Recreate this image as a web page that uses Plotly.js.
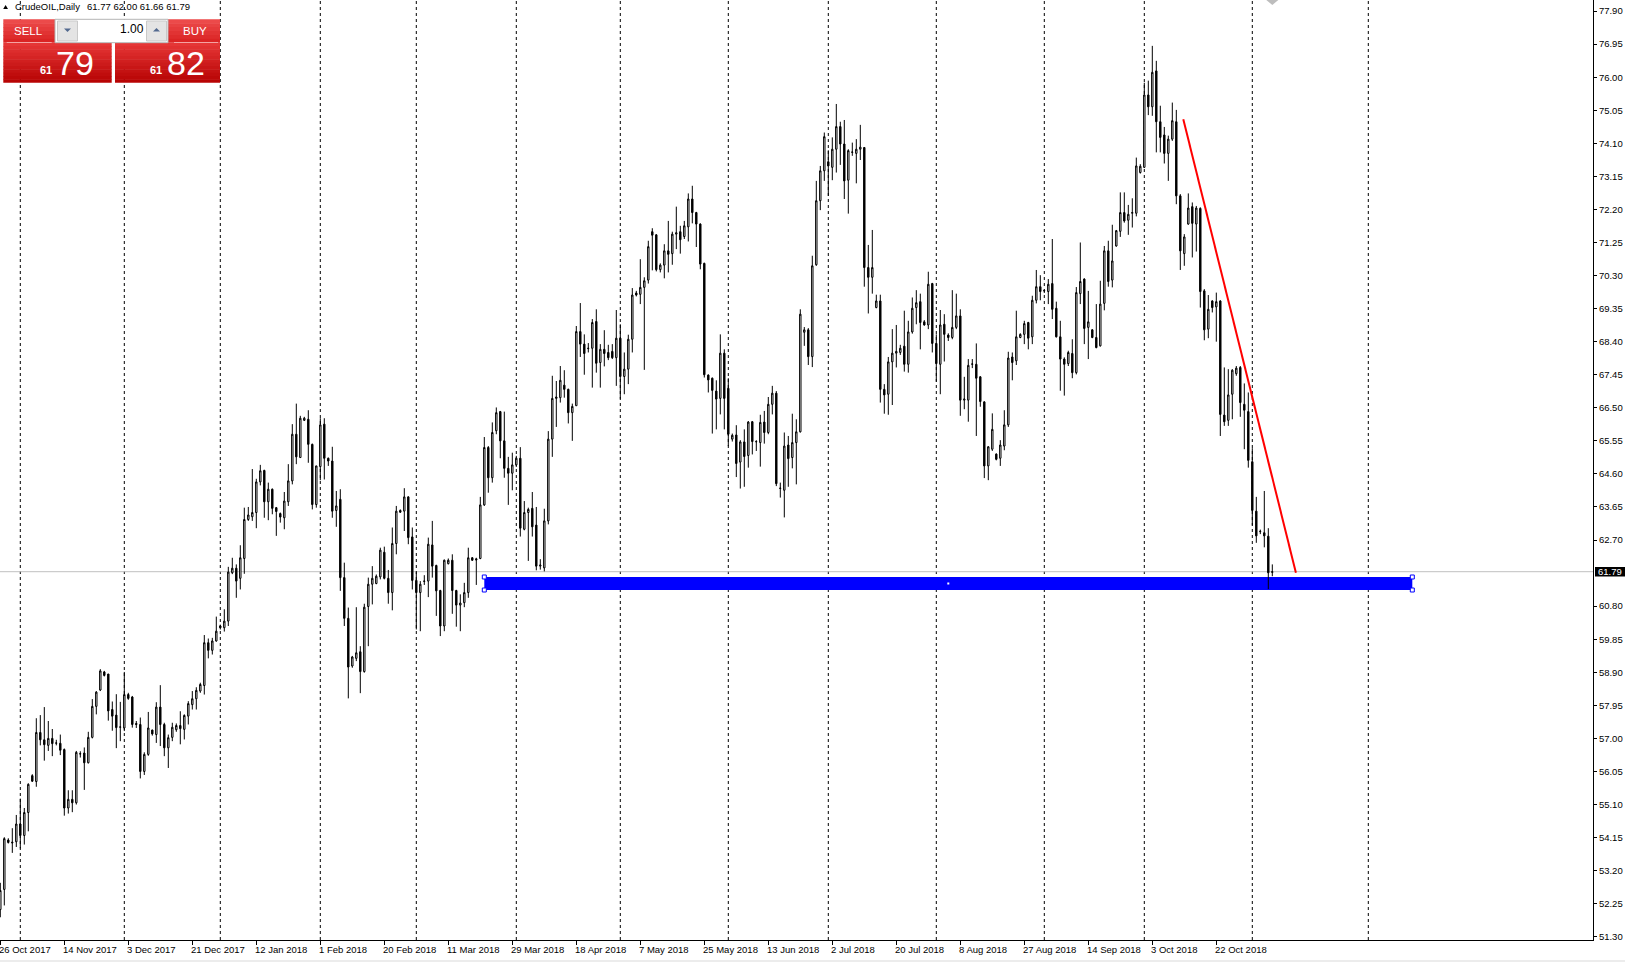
<!DOCTYPE html>
<html><head><meta charset="utf-8">
<script src="https://cdn.plot.ly/plotly-3.0.1.min.js"></script>
<style>html,body{margin:0;padding:0;background:#fff;overflow:hidden}#chart{width:1625px;height:963px}</style>
</head><body><div id="chart"></div>
<script>
// ---------- DATA (CrudeOIL, Daily) ----------
const opens = [52.08,52.66,54.08,54.02,54.03,54.54,54.21,54.87,55.93,55.76,
57.17,56.96,56.80,57.00,56.86,56.86,56.68,55.00,55.25,55.15,
56.55,56.58,56.30,57.03,57.92,58.39,58.91,58.85,57.83,57.67,
57.32,57.30,58.26,58.19,57.43,57.40,56.05,56.54,57.24,57.11,
57.90,57.40,56.73,57.03,57.25,57.37,57.26,57.64,57.97,58.14,
58.36,58.52,59.75,59.53,59.80,60.23,60.18,60.37,61.76,61.89,
61.60,62.17,63.29,63.37,63.49,64.37,64.70,63.80,64.16,63.63,
63.46,63.34,63.80,64.40,65.74,65.07,66.14,66.17,65.45,63.72,
64.81,66.03,65.05,64.97,63.55,63.87,61.62,60.45,59.08,59.30,
59.49,58.92,60.79,61.43,61.45,61.64,62.35,61.60,61.19,62.60,
63.55,63.53,63.94,62.79,61.54,61.19,61.51,61.52,62.56,61.97,
61.25,60.23,62.02,62.12,61.25,60.83,60.90,61.19,62.19,62.16,
62.17,63.71,65.36,64.49,65.84,66.39,65.55,64.76,64.62,64.86,
65.05,63.01,63.49,63.61,63.13,61.95,61.90,63.25,65.60,66.77,
66.79,67.15,67.03,66.36,66.56,68.69,68.33,68.20,68.21,68.98,
67.80,68.18,68.09,68.12,67.94,68.50,67.40,67.61,68.47,69.80,
69.76,69.96,70.17,71.56,71.47,70.47,70.60,71.01,70.93,71.49,
71.56,71.42,71.70,72.50,72.11,71.78,70.65,67.44,67.35,66.98,
66.77,68.07,67.06,65.60,65.72,64.94,65.52,65.13,66.10,65.52,
65.50,66.09,65.79,66.60,66.92,64.18,64.13,65.43,65.07,65.50,
65.81,68.67,68.74,67.97,70.61,72.45,73.31,73.57,73.41,73.93,
74.58,74.08,73.04,73.84,73.81,73.93,73.98,70.53,70.25,69.38,
69.57,67.03,66.89,67.82,68.07,68.09,68.27,67.75,68.68,69.38,
69.55,68.97,68.88,70.07,68.35,67.75,68.90,68.59,68.52,68.81,
69.14,66.72,66.72,67.75,67.75,67.39,66.67,64.83,65.31,65.17,
65.05,65.40,66.01,67.96,67.85,68.52,68.61,68.95,68.54,69.59,
69.98,69.86,69.84,70.07,69.36,68.54,67.90,67.77,68.06,67.51,
69.78,70.20,68.81,68.74,68.52,68.28,69.50,71.01,70.17,71.15,
71.57,72.11,71.89,72.09,72.09,73.26,73.41,75.49,75.15,76.18,
74.72,74.34,73.81,74.22,74.72,72.59,70.93,71.78,72.28,71.78,
72.23,69.86,68.76,69.57,69.40,69.57,66.29,66.14,66.89,67.48,
67.66,66.60,66.39,64.95,63.53,62.94,62.91,62.81,61.77];

const highs = [52.85,54.16,54.13,54.42,54.80,55.27,55.00,55.71,55.97,57.58,
57.67,57.90,57.50,57.27,56.96,57.11,56.71,55.51,55.51,56.64,
56.63,56.74,57.19,58.13,58.36,58.99,58.94,58.85,58.06,58.27,
58.05,58.91,58.31,58.22,57.50,57.60,56.60,57.76,57.25,58.04,
58.53,57.45,57.11,57.45,57.43,57.78,57.69,58.07,58.36,58.47,
58.60,59.97,59.87,59.89,60.50,60.27,60.71,61.93,62.19,62.00,
62.55,63.63,63.65,64.74,64.46,64.86,64.72,64.35,64.18,63.65,
63.49,64.08,64.88,66.03,66.62,66.27,66.24,66.43,65.47,64.83,
66.20,66.20,65.07,65.38,64.11,64.16,62.05,60.76,59.37,60.77,
59.65,60.87,61.62,61.95,61.71,62.48,62.51,61.84,63.06,63.68,
63.58,64.19,63.96,63.06,61.81,61.52,61.69,62.77,63.25,61.99,
61.27,62.14,62.17,62.29,61.27,61.14,61.47,62.48,62.21,62.19,
63.94,65.66,65.40,66.08,66.51,66.41,66.39,65.09,65.21,65.12,
65.37,63.82,63.63,64.08,63.65,62.15,63.60,65.83,67.42,67.27,
67.70,67.58,67.05,66.62,68.85,69.51,68.61,68.36,69.05,69.33,
68.33,68.73,68.31,68.33,69.31,68.90,68.09,68.60,69.94,69.86,
70.77,70.25,71.30,71.66,71.49,70.65,71.20,71.87,71.56,72.28,
71.73,71.87,72.66,72.88,72.13,71.80,70.67,67.46,67.37,67.29,
68.61,68.18,67.35,65.76,66.00,65.57,65.88,66.12,66.12,65.57,
66.30,66.41,66.81,67.13,66.98,64.35,65.79,65.69,66.33,66.17,
69.33,68.82,68.79,70.87,73.02,73.45,74.41,73.90,74.27,75.23,
74.72,74.77,73.93,74.12,74.22,74.63,73.98,71.18,71.61,69.75,
69.75,67.18,67.96,68.76,68.88,68.31,69.29,69.00,69.67,69.88,
69.78,69.02,70.41,70.09,68.61,69.31,69.19,68.64,69.88,69.78,
69.33,67.39,67.90,67.90,68.35,67.41,66.69,65.40,66.34,65.19,
65.57,66.43,68.11,68.09,69.29,68.64,69.00,68.97,69.72,70.46,
70.31,69.90,70.20,71.35,69.55,69.00,67.95,68.14,68.47,69.97,
71.25,70.22,69.86,68.76,69.48,70.15,71.15,71.30,71.76,71.61,
72.69,72.69,72.33,72.52,73.69,73.50,75.84,75.90,76.90,76.47,
75.18,74.57,74.32,75.27,75.06,72.64,71.49,72.66,72.40,72.30,
72.26,69.91,69.74,69.59,69.81,69.59,67.66,67.61,67.61,67.70,
67.70,67.20,66.94,65.34,63.94,63.00,64.11,63.04,62.00];

const lows = [51.86,52.20,53.98,53.71,53.88,53.84,53.95,54.33,55.75,55.61,
56.80,56.36,56.64,56.49,56.80,56.52,54.78,54.84,54.88,55.10,
56.45,55.52,56.28,57.00,57.69,58.36,58.78,57.51,57.22,56.72,
56.92,57.21,58.11,57.31,57.30,55.85,55.95,56.50,57.08,56.87,
56.78,56.49,56.15,56.92,57.19,56.83,56.97,57.40,57.83,57.83,
58.31,58.26,59.30,59.41,59.78,60.13,60.07,60.23,61.72,61.04,
61.28,61.73,63.25,63.25,63.04,64.27,63.34,63.27,63.44,62.82,
63.20,63.01,63.68,64.30,64.88,65.07,66.12,64.92,63.58,63.63,
64.42,64.44,64.83,63.34,63.08,61.24,60.23,58.15,59.03,59.22,
58.30,58.89,59.65,60.85,61.43,61.57,61.57,60.87,60.68,62.29,
63.48,62.96,62.58,61.28,60.13,60.08,61.41,61.06,61.62,60.52,
59.94,60.08,62.00,60.58,60.21,60.08,60.77,61.04,62.10,61.41,
62.15,63.68,64.06,64.35,65.74,65.05,64.49,63.71,64.13,64.80,
62.80,62.98,62.10,62.80,61.83,61.85,61.80,63.15,65.09,65.95,
66.65,66.79,66.05,65.55,66.56,67.96,67.45,68.09,67.08,67.51,
67.08,67.69,67.87,67.90,67.13,66.76,66.89,67.18,68.09,69.70,
69.48,67.59,70.07,70.45,70.42,70.39,70.22,70.39,70.61,71.06,
70.93,71.35,71.28,71.80,71.12,70.48,67.37,66.94,65.76,65.88,
66.31,65.88,65.40,65.53,64.51,64.18,64.23,64.78,65.16,65.26,
64.81,65.47,65.74,66.31,64.25,63.92,63.35,64.23,64.76,64.30,
65.79,68.28,67.73,67.67,70.58,72.18,73.02,72.59,73.04,73.26,
73.48,72.50,72.08,73.74,72.95,73.62,69.98,69.21,69.78,69.36,
66.65,66.33,66.30,66.58,67.66,68.02,67.54,67.51,68.63,68.90,
68.18,68.86,68.76,68.09,67.25,66.89,67.83,68.42,68.47,68.76,
66.27,66.46,66.10,67.64,65.69,66.53,64.48,64.42,65.26,64.99,
64.83,65.28,65.95,67.29,67.73,68.50,68.33,68.18,68.33,69.50,
69.59,69.80,69.48,69.05,68.52,66.99,66.85,67.70,67.35,67.46,
69.48,68.33,67.90,68.50,68.21,68.26,69.30,69.98,69.96,71.13,
71.41,71.82,71.47,71.68,72.00,73.23,73.39,74.91,74.89,73.84,
73.84,73.52,73.02,74.17,72.35,70.46,70.58,71.76,70.82,70.99,
69.38,68.44,68.50,69.24,68.40,65.69,65.98,65.98,66.17,67.42,
66.24,65.31,64.78,63.12,62.62,62.87,62.49,61.29,61.66];

const closes = [52.63,54.12,54.01,54.00,54.54,54.21,54.87,55.68,55.77,57.17,
56.96,56.82,57.00,56.85,56.87,56.66,55.00,55.25,55.15,56.60,
56.56,56.30,57.03,57.92,58.33,58.94,58.81,57.79,57.64,57.31,
57.33,58.26,58.15,57.40,57.40,56.05,56.54,57.30,57.13,57.90,
57.40,56.73,57.02,57.32,57.37,57.28,57.66,58.00,58.14,58.38,
58.55,59.75,59.53,59.80,60.08,60.18,60.37,61.78,61.89,61.52,
62.19,63.29,63.42,63.49,64.37,64.69,63.80,64.16,63.61,63.52,
63.36,63.82,64.40,65.74,65.09,66.20,66.20,65.45,63.72,64.83,
66.01,65.05,64.97,63.53,63.68,61.62,60.45,59.05,59.34,59.46,
58.92,60.77,61.43,61.60,61.66,62.41,61.60,61.19,62.60,63.53,
63.50,63.94,62.77,61.54,61.19,61.43,61.52,62.58,61.95,61.24,
60.23,62.12,62.12,61.25,60.83,60.89,61.19,62.19,62.12,62.13,
63.71,65.36,64.49,65.79,66.36,65.55,64.76,64.62,64.86,65.05,
63.04,63.49,63.58,63.08,61.95,61.98,63.25,65.60,66.77,66.81,
67.29,67.03,66.36,66.54,68.69,68.33,68.06,68.21,68.95,67.78,
68.18,68.06,67.94,67.94,68.50,67.40,67.61,68.47,69.74,69.74,
69.96,70.15,71.13,71.46,70.47,70.60,71.01,70.91,71.49,71.53,
71.33,71.73,72.50,72.11,71.78,70.63,67.45,67.30,67.00,66.75,
68.07,66.77,65.74,65.71,64.90,65.52,65.10,66.09,65.53,65.53,
66.08,65.79,66.60,66.92,64.32,64.19,65.40,65.04,65.50,65.81,
69.19,68.74,67.97,70.58,72.45,73.31,74.29,73.45,73.93,74.58,
74.08,73.02,73.89,73.85,73.93,73.99,70.53,70.25,70.53,69.57,
67.03,66.87,67.82,68.07,68.12,68.21,67.75,68.68,69.36,69.52,
68.95,68.88,70.05,68.35,67.77,68.88,68.61,68.52,68.81,69.14,
66.72,66.75,67.72,67.76,67.35,66.68,64.83,65.38,65.88,65.02,
65.43,66.01,67.93,67.80,68.54,68.61,68.92,68.50,69.59,69.98,
69.84,69.87,70.05,69.33,68.54,67.90,67.75,68.09,67.51,69.81,
70.13,68.78,68.97,68.52,68.23,69.48,71.01,70.13,70.72,71.59,
72.11,71.87,72.06,72.11,73.45,73.44,75.49,75.15,76.14,74.72,
74.27,73.81,74.22,74.75,72.59,71.01,71.41,72.24,71.80,72.24,
69.84,68.74,69.33,69.38,69.55,66.31,66.10,66.87,67.58,67.64,
66.65,66.43,64.99,63.55,62.82,62.95,62.82,61.76,61.79];

const dateLabelBars = [0,16,32,48,64,80,96,112,128,144,160,176,192,208,224,240,256,272,288,304];
const dateLabels = ["26 Oct 2017","14 Nov 2017","3 Dec 2017","21 Dec 2017","12 Jan 2018","1 Feb 2018",
"20 Feb 2018","11 Mar 2018","29 Mar 2018","18 Apr 2018","7 May 2018","25 May 2018","13 Jun 2018",
"2 Jul 2018","20 Jul 2018","8 Aug 2018","27 Aug 2018","14 Sep 2018","3 Oct 2018","22 Oct 2018"];
const separatorBars = [5,31,55,80,104,129,155,182,207,234,261,286,313,342];
const priceTickLabels = ["51.30","52.25","53.20","54.15","55.10","56.05","57.00","57.95","58.90","59.85",
"60.80","62.70","63.65","64.60","65.55","66.50","67.45","68.40","69.35","70.30","71.25","72.20",
"73.15","74.10","75.05","76.00","76.95","77.90"];
const priceTickVals = priceTickLabels.map(Number);
const symbolName = "CrudeOIL,Daily";
const headerOHLC = ["61.77","62.00","61.66","61.79"];
const bidPrice = 61.79;
const bidBig = "79", askBig = "82", priceHandle = "61";
const lotSize = "1.00";
const zoneBars = [121, 353];
const zonePrices = [61.264, 61.638];
const trendBars = [295.75, 323.9];
const trendPrices = [74.79, 61.76];

// ---------- LAYOUT HELPERS ----------
const W = 1625, H = 963, PW = 1593, PH = 940;
const XR = [-0.075, -0.075 + PW / 4];
const YR = [51.207, 78.218];
const FONT = "Liberation Sans, Arial, sans-serif";
const X = p => p / PW, Y = p => 1 - p / PH;
const barPx = k => (k - XR[0]) / (XR[1] - XR[0]) * PW;

function rectPx(x0, y0, x1, y1, fill, line) {
  return {type:'rect', xref:'paper', yref:'paper', x0:X(x0), x1:X(x1), y0:Y(y1), y1:Y(y0),
    fillcolor:fill, line: line ? {color:line, width:1} : {width:0}, layer:'above'};
}
function hex(c){return [parseInt(c.substr(1,2),16),parseInt(c.substr(3,2),16),parseInt(c.substr(5,2),16)];}
function mix(c0,c1,t){const a=hex(c0),b=hex(c1);return 'rgb('+a.map((v,i)=>Math.round(v+(b[i]-v)*t)).join(',')+')';}
function gradient(x0,y0,x1,y1,c0,c1,n){
  const out=[],h=(y1-y0)/n;
  for(let i=0;i<n;i++) out.push(rectPx(x0,y0+i*h,x1,Math.min(y1,y0+(i+1)*h+0.5),mix(c0,c1,i/(n-1)),null));
  return out;
}
function txt(x,y,text,size,color,anchor,bold){
  return {xref:'paper',yref:'paper',x:X(x),y:Y(y),text:bold?'<b>'+text+'</b>':text,showarrow:false,
    xanchor:anchor,yanchor:'middle',font:{family:FONT,size:size,color:color},borderpad:0,borderwidth:0};
}

const shapes = [];
// period separators
separatorBars.forEach(b => shapes.push({type:'line', xref:'x', yref:'paper', x0:b, x1:b, y0:0, y1:1,
  line:{color:'#000', width:1, dash:'3px,3px'}, layer:'below'}));
// bid line
shapes.push({type:'line', xref:'paper', yref:'y', x0:0, x1:1, y0:bidPrice, y1:bidPrice,
  line:{color:'#C0C0C0', width:1}, layer:'below'});
// support zone (background object)
shapes.push({type:'rect', xref:'x', yref:'y', x0:zoneBars[0], x1:zoneBars[1], y0:zonePrices[0], y1:zonePrices[1],
  fillcolor:'#0000FF', line:{width:0}, layer:'below'});
// zone handles
[[zoneBars[0],zonePrices[1]],[zoneBars[0],zonePrices[0]],[zoneBars[1],zonePrices[1]],[zoneBars[1],zonePrices[0]]].forEach(p=>{
  shapes.push({type:'rect', xref:'x', yref:'y', xsizemode:'pixel', ysizemode:'pixel', xanchor:p[0], yanchor:p[1],
    x0:-2, x1:2, y0:-2, y1:2, fillcolor:'#FFFFFF', line:{color:'#0000FF', width:1}, layer:'above'});
});
shapes.push({type:'rect', xref:'x', yref:'y', xsizemode:'pixel', ysizemode:'pixel',
  xanchor:(zoneBars[0]+zoneBars[1])/2, yanchor:(zonePrices[0]+zonePrices[1])/2,
  x0:-1, x1:1, y0:-1, y1:1, fillcolor:'#FFFFFF', line:{width:0}, layer:'above'});
// trend line
shapes.push({type:'line', xref:'x', yref:'y', x0:trendBars[0], x1:trendBars[1], y0:trendPrices[0], y1:trendPrices[1],
  line:{color:'#FF0000', width:2}, layer:'above'});
// chart shift marker
const lastPx = barPx(opens.length - 1);
shapes.push({type:'path', xref:'paper', yref:'paper',
  path:`M${X(lastPx-6)},${Y(0)} L${X(lastPx+6)},${Y(0)} L${X(lastPx)},${Y(5)} Z`,
  fillcolor:'#BDBDBD', line:{width:0}, layer:'above'});
// current price box on the axis
shapes.push({type:'rect', xref:'paper', yref:'paper', x0:X(1595), x1:X(1626), y0:Y(576.5), y1:Y(567),
  fillcolor:'#000000', line:{width:0}, layer:'above'});
// bottom window border
shapes.push({type:'line', xref:'paper', yref:'paper', x0:0, x1:X(W), y0:Y(961), y1:Y(961),
  line:{color:'#D9D9D9', width:1}, layer:'above'});
// header triangle
shapes.push({type:'path', xref:'paper', yref:'paper',
  path:`M${X(3.2)},${Y(9)} L${X(8)},${Y(9)} L${X(5.6)},${Y(5)} Z`, fillcolor:'#000', line:{width:0}, layer:'above'});

// one-click trading panel
gradient(3.3,19.3,55,42.7,'#EC4A4A','#DA2424',6).forEach(s=>shapes.push(s));
gradient(168,19.3,220,42.7,'#EC4A4A','#DA2424',6).forEach(s=>shapes.push(s));
gradient(3.3,42.7,111.7,82.7,'#E53636','#B80404',12).forEach(s=>shapes.push(s));
gradient(115,42.7,220,82.7,'#E53636','#B80404',12).forEach(s=>shapes.push(s));
shapes.push({type:'line', xref:'paper', yref:'paper', x0:X(6.7), x1:X(51.7), y0:Y(42.5), y1:Y(42.5), line:{color:'#F4A3A3', width:1}, layer:'above'});
shapes.push({type:'line', xref:'paper', yref:'paper', x0:X(174), x1:X(218), y0:Y(42.5), y1:Y(42.5), line:{color:'#F4A3A3', width:1}, layer:'above'});
shapes.push(rectPx(55,19.3,168,42.7,'#FFFFFF','#B4B4B4'));
shapes.push(rectPx(57.5,21,77.5,41,'#E4E4E4','#C9C9C9'));
shapes.push(rectPx(146.5,21,166.5,41,'#E4E4E4','#C9C9C9'));
shapes.push({type:'path', xref:'paper', yref:'paper', path:`M${X(64)},${Y(28.5)} L${X(71)},${Y(28.5)} L${X(67.5)},${Y(32)} Z`, fillcolor:'#52698F', line:{width:0}, layer:'above'});
shapes.push({type:'path', xref:'paper', yref:'paper', path:`M${X(153)},${Y(31.5)} L${X(160)},${Y(31.5)} L${X(156.5)},${Y(28)} Z`, fillcolor:'#52698F', line:{width:0}, layer:'above'});

const annotations = [];
dateLabelBars.forEach((b,i)=>annotations.push({xref:'x', yref:'paper', x:b, y:Y(949.3), text:dateLabels[i],
  showarrow:false, xanchor:'left', yanchor:'middle', xshift:-1.5, font:{family:FONT, size:9.5, color:'#000'},
  borderpad:0, borderwidth:0}));
annotations.push(txt(1598.5,571.8,bidPrice.toFixed(2),9.5,'#FFFFFF','left',false));
annotations.push(txt(14.5,6.8,symbolName,9.5,'#000','left',false));
annotations.push(txt(86.5,6.8,headerOHLC.join(' '),9.5,'#000','left',false));
annotations.push(txt(28.5,30.7,'SELL',11.5,'#FFFFFF','center',false));
annotations.push(txt(195,30.7,'BUY',11.5,'#FFFFFF','center',false));
annotations.push(txt(143.5,29.3,lotSize,12,'#000','right',false));
annotations.push(txt(40,70.3,priceHandle,11,'#FFFFFF','left',true));
annotations.push(txt(55.5,63.3,bidBig,34,'#FFFFFF','left',false));
annotations.push(txt(149.5,70.3,priceHandle,11,'#FFFFFF','left',true));
annotations.push(txt(167,63.3,askBig,34,'#FFFFFF','left',false));

const trace = {
  type:'candlestick', x: opens.map((_,i)=>i), open:opens, high:highs, low:lows, close:closes,
  increasing:{line:{color:'#000000', width:1}, fillcolor:'#FFFFFF'},
  decreasing:{line:{color:'#000000', width:1}, fillcolor:'#000000'},
  whiskerwidth:0, hoverinfo:'skip', showlegend:false
};

const layout = {
  width:W, height:H, autosize:false,
  margin:{l:0, r:W-PW, t:0, b:H-PH, pad:0},
  paper_bgcolor:'#FFFFFF', plot_bgcolor:'#FFFFFF',
  showlegend:false, boxgap:0.5, dragmode:false,
  font:{family:FONT, size:9.5, color:'#000'},
  xaxis:{type:'linear', range:XR, showgrid:false, zeroline:false, showline:true, linecolor:'#000', linewidth:1,
    ticks:'outside', ticklen:4, tickcolor:'#000', tickwidth:1, tickvals:dateLabelBars, showticklabels:false,
    rangeslider:{visible:false}, fixedrange:true},
  yaxis:{side:'right', range:YR, showgrid:false, zeroline:false, showline:true, linecolor:'#000', linewidth:1,
    ticks:'outside', ticklen:3, tickcolor:'#000', tickwidth:1, tickvals:priceTickVals, ticktext:priceTickLabels,
    tickfont:{family:FONT, size:9.5, color:'#000'}, fixedrange:true},
  shapes:shapes, annotations:annotations
};

Plotly.newPlot('chart',[trace],layout,{displayModeBar:false, staticPlot:true});
</script>
</body></html>
